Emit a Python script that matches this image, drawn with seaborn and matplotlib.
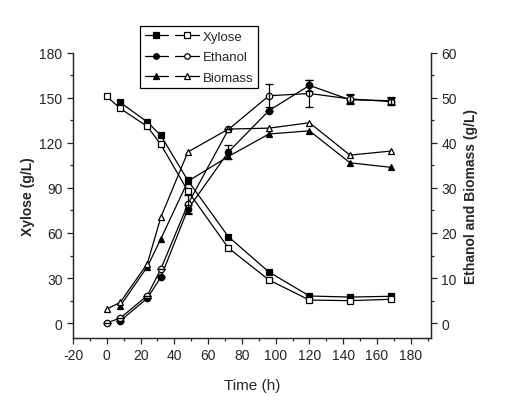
import matplotlib
matplotlib.use("Agg")
import matplotlib.pyplot as plt
import seaborn as sns
import numpy as np
import pandas as pd
from matplotlib.lines import Line2D
from matplotlib.legend_handler import HandlerTuple
from matplotlib.ticker import MultipleLocator

# time points (h); filled series start at 8 h
time_open = [0, 8, 24, 32, 48, 72, 96, 120, 144, 168]
time_filled = [8, 24, 32, 48, 72, 96, 120, 144, 168]

xylose_filled = [147, 134, 125, 95, 57.5, 34, 18, 17.3, 17.8]
xylose_open = [151, 143, 131, 119, 88, 50, 28.7, 15.3, 14.9, 15.8]

ethanol_filled = [0.5, 5.5, 10.2, 25.3, 38, 47.2, 52.8, 49.6, 49.4]
ethanol_open = [0, 1.1, 6.1, 12, 26.4, 43, 50.5, 51, 49.8, 49.2]
ethanol_filled_err = [0, 0, 0, 1.0, 1.5, 0, 1.2, 1.0, 0.8]
ethanol_open_err = [0, 0, 0, 0, 2.0, 0, 2.5, 3.0, 1.0, 0.8]

biomass_filled = [3.8, 12.5, 18.7, 31.5, 37, 42, 42.7, 35.6, 34.6]
biomass_open = [3.1, 4.6, 13.2, 23.5, 38, 43.1, 43.3, 44.5, 37.3, 38.2]

sns.set_style("ticks")
plt.rcParams["font.family"] = ["Liberation Sans", "DejaVu Sans"]
plt.rcParams["axes.unicode_minus"] = False

fig = plt.figure(figsize=(5.05, 4.02), dpi=100)
ax = fig.add_axes([0.1446, 0.1567, 0.709, 0.709])
ax2 = ax.twinx()

line_kw = dict(color="black", linewidth=0.9, markeredgecolor="black", markeredgewidth=0.9)
sizes = {"s": 4.6, "o": 4.6, "^": 5.0}


def draw(axis, t, y, marker, filled):
    df = pd.DataFrame({"t": t, "y": y})
    sns.lineplot(data=df, x="t", y="y", ax=axis, marker=marker, markersize=sizes[marker],
                 markerfacecolor="black" if filled else "white", **line_kw)


draw(ax, time_filled, xylose_filled, "s", True)
draw(ax, time_open, xylose_open, "s", False)
draw(ax2, time_filled, ethanol_filled, "o", True)
draw(ax2, time_open, ethanol_open, "o", False)
draw(ax2, time_filled, biomass_filled, "^", True)
draw(ax2, time_open, biomass_open, "^", False)

ax2.errorbar(time_filled, ethanol_filled, yerr=ethanol_filled_err, fmt="none",
             ecolor="black", elinewidth=0.9, capsize=3, capthick=0.9)
ax2.errorbar(time_open, ethanol_open, yerr=ethanol_open_err, fmt="none",
             ecolor="black", elinewidth=0.9, capsize=3, capthick=0.9)

ax.set_xlim(-20, 192)
ax.set_ylim(-10, 180)
ax2.set_ylim(-10 / 3, 60)

ax.xaxis.set_major_locator(MultipleLocator(20))
ax.xaxis.set_minor_locator(MultipleLocator(10))
ax.yaxis.set_major_locator(MultipleLocator(30))
ax.yaxis.set_minor_locator(MultipleLocator(15))
ax2.yaxis.set_major_locator(MultipleLocator(10))
ax2.yaxis.set_minor_locator(MultipleLocator(5))
ax.set_yticks(np.arange(0, 181, 30))
ax2.set_yticks(np.arange(0, 61, 10))

for a in (ax, ax2):
    a.spines["top"].set_visible(False)
    for s in a.spines.values():
        s.set_linewidth(0.9)
    a.tick_params(which="major", direction="out", length=4, width=0.9, labelsize=10)
    a.tick_params(which="minor", direction="out", length=2.5, width=0.9)

ax.set_xlabel("Time (h)", fontsize=11, labelpad=11)
ax.set_ylabel("Xylose (g/L)", fontsize=10, fontweight="bold", labelpad=3)
ax2.set_ylabel("Ethanol and Biomass (g/L)", fontsize=10, fontweight="bold", labelpad=5)


def handle(marker, filled):
    return Line2D([], [], marker=marker, markersize=sizes[marker] - 0.6,
                  markerfacecolor="black" if filled else "white", **line_kw)


handles = [(handle("s", True), handle("s", False)),
           (handle("o", True), handle("o", False)),
           (handle("^", True), handle("^", False))]
labels = ["Xylose", "Ethanol", "Biomass"]
leg = ax.legend(handles, labels, handler_map={tuple: HandlerTuple(ndivide=None, pad=0.5)},
                loc="upper left", bbox_to_anchor=(0.277, 0.933), bbox_transform=fig.transFigure,
                borderaxespad=0, frameon=True, fancybox=False, edgecolor="black", framealpha=1,
                fontsize=9.5, handlelength=4.1, numpoints=1, labelspacing=0.62,
                handletextpad=0.3, borderpad=0.35)
leg.get_frame().set_linewidth(0.9)

fig.savefig("out.png", dpi=100)
